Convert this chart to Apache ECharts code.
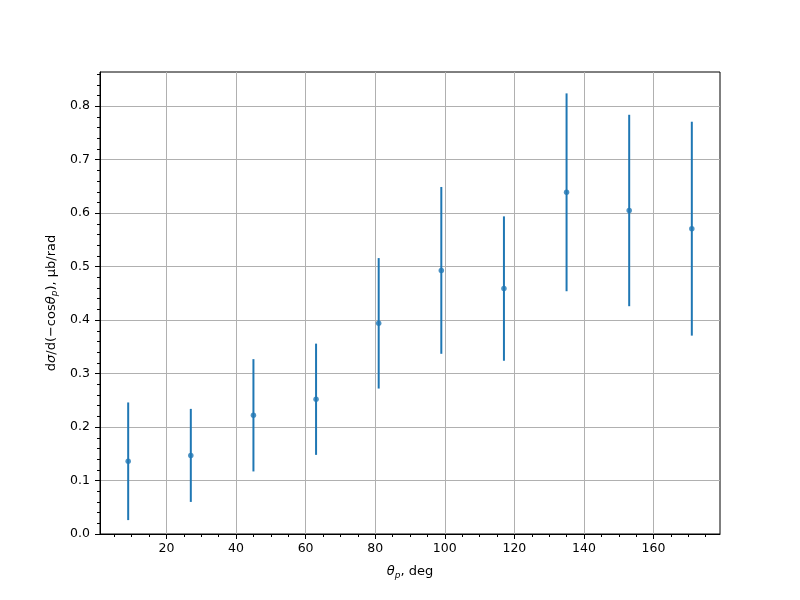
<!DOCTYPE html>
<html>
<head>
<meta charset="utf-8">
<script src="https://cdn.jsdelivr.net/npm/echarts@6/dist/echarts.min.js"></script>
<style>html,body{margin:0;padding:0;background:#fff}#c{width:800px;height:600px}</style>
</head>
<body>
<div id="c"></div>
<script>
// Data
const thetaDeg = [9, 27, 45, 63, 81, 99, 117, 135, 153, 171];
const sigma    = [0.136, 0.147, 0.222, 0.252, 0.394, 0.493, 0.459, 0.639, 0.605, 0.571];
const sigmaErr = [0.110, 0.087, 0.105, 0.104, 0.122, 0.156, 0.135, 0.185, 0.179, 0.200];

// Tick labels / positions
const xMajorTicks = [20, 40, 60, 80, 100, 120, 140, 160];
const xMinorTicks = [5, 10, 15, 25, 30, 35, 45, 50, 55, 65, 70, 75, 85, 90, 95, 105, 110, 115, 125, 130, 135, 145, 150, 155, 165, 170, 175];
const yMajorTicks = [0, 0.1, 0.2, 0.3, 0.4, 0.5, 0.6, 0.7, 0.8];
const yMinorTicks = [0.02, 0.04, 0.06, 0.08, 0.12, 0.14, 0.16, 0.18, 0.22, 0.24, 0.26, 0.28, 0.32, 0.34, 0.36, 0.38, 0.42, 0.44, 0.46, 0.48, 0.52, 0.54, 0.56, 0.58, 0.62, 0.64, 0.66, 0.68, 0.72, 0.74, 0.76, 0.78, 0.82, 0.84, 0.86];

const X_MIN = 0.9, X_MAX = 179.1, Y_MIN = 0, Y_MAX = 0.864;
const FONT = 'DejaVu Sans';
const BLUE = '#1f77b4';

const points = thetaDeg.map((x, i) => [x, sigma[i]]);
const bars = thetaDeg.map((x, i) => [x, sigma[i], sigma[i] - sigmaErr[i], sigma[i] + sigmaErr[i]]);

const gridPos = {left: 100, top: 72, width: 620, height: 462};

const chart = echarts.init(document.getElementById('c'), null, {renderer: 'canvas'});
chart.setOption({
  backgroundColor: '#fff',
  animation: false,
  grid: [
    Object.assign({show: true, borderColor: '#000', borderWidth: 1, backgroundColor: 'transparent', containLabel: false}, gridPos),
    Object.assign({show: false, containLabel: false}, gridPos)
  ],
  xAxis: [
    {
      type: 'value', gridIndex: 0, min: X_MIN, max: X_MAX,
      name: '{i|θ}{s|p}{n|, deg}', nameLocation: 'middle', nameGap: 30,
      nameTextStyle: {
        rich: {
          n: {fontFamily: FONT, fontSize: 13, color: '#000', lineHeight: 16},
          i: {fontFamily: FONT, fontSize: 13, fontStyle: 'italic', color: '#000', lineHeight: 16},
          s: {fontFamily: FONT, fontSize: 9, fontStyle: 'italic', color: '#000', lineHeight: 16, verticalAlign: 'bottom', padding: [4, 0, 0, 0]}
        }
      },
      axisLine: {show: true, onZero: false, lineStyle: {color: '#000', width: 1}},
      axisTick: {show: true, length: 5, lineStyle: {color: '#000', width: 1}, customValues: xMajorTicks},
      axisLabel: {show: true, customValues: xMajorTicks, margin: 8, color: '#000', fontFamily: FONT, fontSize: 12.5},
      splitLine: {show: true, lineStyle: {color: '#b0b0b0', width: 1}}
    },
    {
      type: 'value', gridIndex: 1, min: X_MIN, max: X_MAX,
      axisLine: {show: false},
      axisTick: {show: true, length: 3, lineStyle: {color: '#000', width: 1}, customValues: xMinorTicks},
      axisLabel: {show: false},
      splitLine: {show: false}
    }
  ],
  yAxis: [
    {
      type: 'value', gridIndex: 0, min: Y_MIN, max: Y_MAX,
      name: '{n|d}{i|σ}{n|/d(−cos}{i|θ}{s|p}{n|), μb/rad}', nameLocation: 'middle', nameGap: 37, nameRotate: 90,
      nameTextStyle: {
        rich: {
          n: {fontFamily: FONT, fontSize: 13, color: '#000', lineHeight: 16},
          i: {fontFamily: FONT, fontSize: 13, fontStyle: 'italic', color: '#000', lineHeight: 16},
          s: {fontFamily: FONT, fontSize: 9, fontStyle: 'italic', color: '#000', lineHeight: 16, verticalAlign: 'bottom', padding: [4, 0, 0, 0]}
        }
      },
      axisLine: {show: true, onZero: false, lineStyle: {color: '#000', width: 1}},
      axisTick: {show: true, length: 5, lineStyle: {color: '#000', width: 1}, customValues: yMajorTicks},
      axisLabel: {show: true, customValues: yMajorTicks, margin: 10, color: '#000', fontFamily: FONT, fontSize: 12.5,
                  formatter: v => Number(v).toFixed(1)},
      splitLine: {show: true, lineStyle: {color: '#b0b0b0', width: 1}}
    },
    {
      type: 'value', gridIndex: 1, min: Y_MIN, max: Y_MAX,
      axisLine: {show: false},
      axisTick: {show: true, length: 3, lineStyle: {color: '#000', width: 1}, customValues: yMinorTicks},
      axisLabel: {show: false},
      splitLine: {show: false}
    }
  ],
  series: [
    {
      type: 'custom', xAxisIndex: 0, yAxisIndex: 0, data: bars, z: 3,
      renderItem: function (params, api) {
        const x = api.value(0);
        const p1 = api.coord([x, api.value(2)]);
        const p2 = api.coord([x, api.value(3)]);
        return {type: 'line', shape: {x1: p1[0], y1: p1[1], x2: p2[0], y2: p2[1]},
                style: {stroke: BLUE, lineWidth: 2}};
      }
    },
    {
      type: 'scatter', xAxisIndex: 0, yAxisIndex: 0, data: points, z: 4,
      symbol: 'circle', symbolSize: 5.5, itemStyle: {color: BLUE}
    }
  ]
});
</script>
</body>
</html>
